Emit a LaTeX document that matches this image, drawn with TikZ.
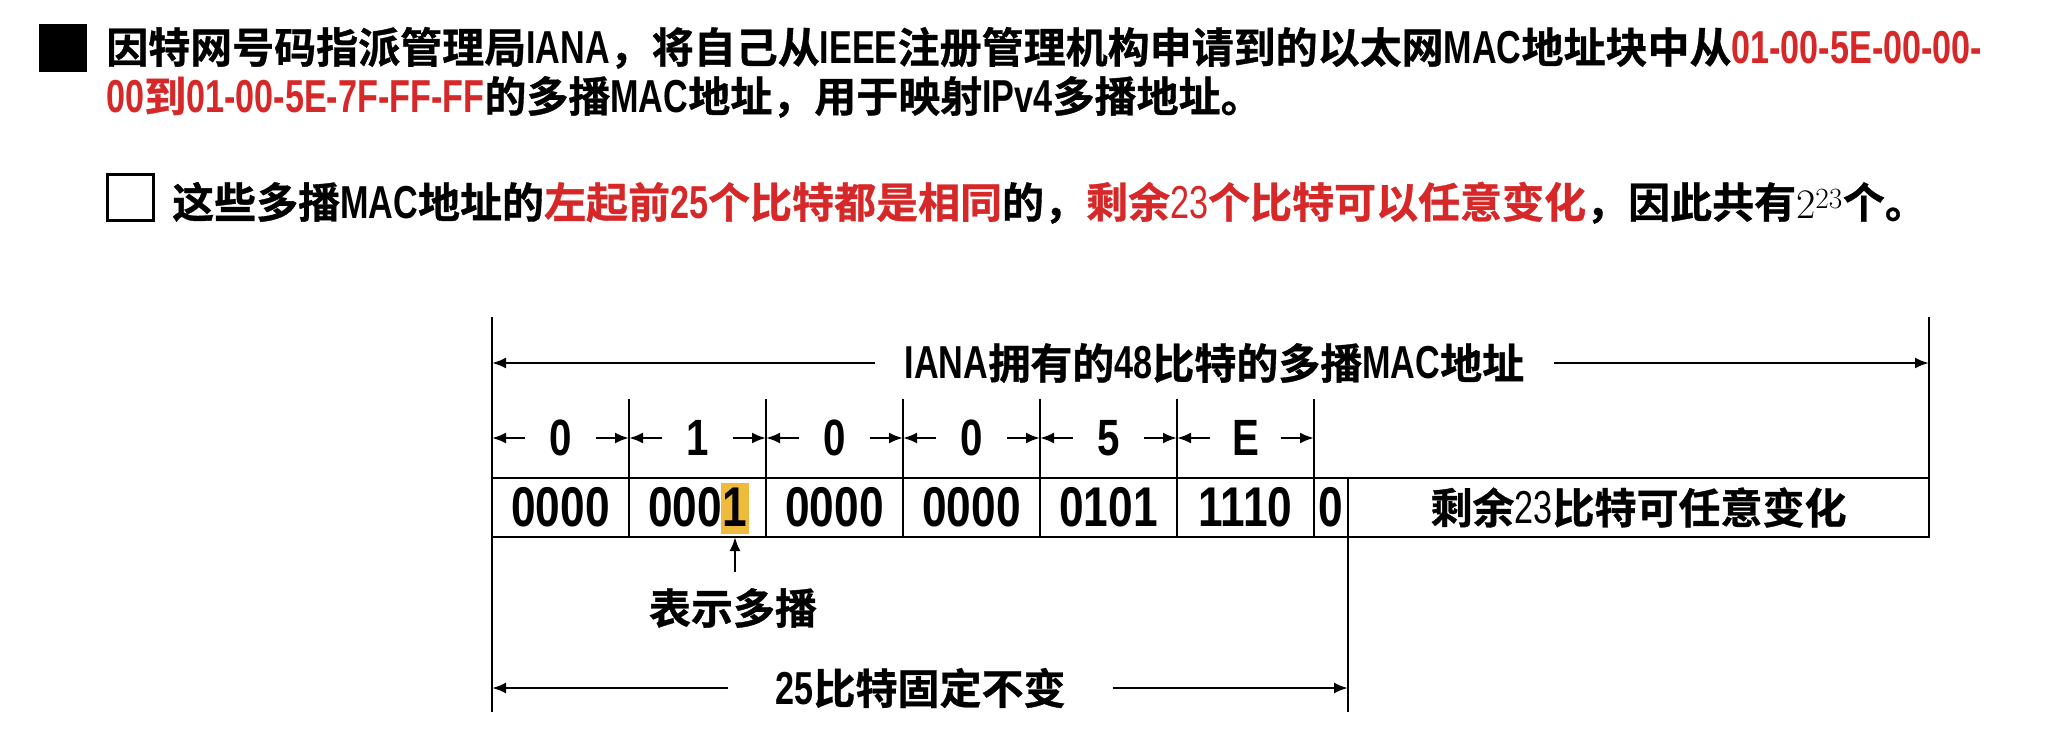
\documentclass[tikz,border=0pt]{standalone}
\usepackage{fontspec}
\setmainfont{Noto Sans CJK SC}[UprightFont={* Bold}, FakeBold=0.8]
\newfontfamily\engfont{Liberation Sans}[UprightFont={* Bold}, FakeStretch=0.74, Scale=1.1]
\newfontfamily\thinfont{Liberation Sans}[FakeStretch=0.74, Scale=1.1]
\newfontfamily\bitfont{Liberation Sans}[UprightFont={* Bold}, FakeStretch=0.79]
\usepackage{xcolor}
\usetikzlibrary{arrows.meta,positioning}
\definecolor{hlred}{RGB}{214,40,40}
\definecolor{hlyellow}{RGB}{238,187,60}
\newcommand{\eng}[1]{{\engfont #1}}
\newcommand{\thinnum}[1]{{\thinfont #1}}
\tikzstyle{title} = [anchor=base west, inner sep=0pt, font=\fontsize{42}{50}\selectfont]
\tikzstyle{cell} = [rectangle, draw=black, line width=2.6pt, outer sep=0pt, minimum width=137pt, minimum height=59pt, inner sep=0pt, font=\bitfont\fontsize{56}{60}\selectfont]
\tikzstyle{hexlab} = [inner sep=0pt, minimum width=70pt, font=\bitfont\fontsize{51}{56}\selectfont]
\tikzstyle{dimlabel} = [inner ysep=0pt, font=\fontsize{42}{50}\selectfont]
\tikzstyle{guide} = [line width=2.4pt]
\tikzstyle{dim} = [line width=2.4pt, -{Latex[length=14pt,width=11pt]}]

\begin{document}
\begin{tikzpicture}[x=1pt, y=-1pt]
    \path[fill=white, use as bounding box] (0,0) rectangle (2054,750);

    % heading lines
    \node (sq1)[rectangle, fill=black, minimum size=48pt, inner sep=0pt] at (63,47.5) {};
    \node (l1)[title] at (106,63) {因特网号码指派管理局\eng{IANA}，将自己从\eng{IEEE}注册管理机构申请到的以太网\eng{MAC}地址块中从\textcolor{hlred}{\eng{01-00-5E-00-00-}}};
    \node (l2)[title] at (106,112) {\textcolor{hlred}{\eng{00}到\eng{01-00-5E-7F-FF-FF}}的多播\eng{MAC}地址，用于映射\eng{IPv4}多播地址。};
    \node (sq2)[rectangle, draw=black, line width=2.6pt, minimum size=46pt, inner sep=0pt] at (130.5,197.5) {};
    \node (l3)[title] at (172,218) {这些多播\eng{MAC}地址的\textcolor{hlred}{左起前\eng{25}个比特都是相同}的，\textcolor{hlred}{剩余\thinnum{23}个比特可以任意变化}，因此共有{\fontfamily{lmr}\selectfont 2\textsuperscript{23}}个。};

    % address fields
    \node (hl)[rectangle, fill=hlyellow, minimum width=28pt, minimum height=51pt, inner sep=0pt] at (735,508) {};
    \node (c1)[cell] at (560.5,507.5) {0000};
    \node (c2)[cell, right=0pt of c1] {0001};
    \node (c3)[cell, right=0pt of c2] {0000};
    \node (c4)[cell, right=0pt of c3] {0000};
    \node (c5)[cell, right=0pt of c4] {0101};
    \node (c6)[cell, right=0pt of c5] {1110};
    \node (c7)[cell, minimum width=34pt, right=0pt of c6] {0};
    \node (c8)[cell, minimum width=581pt, right=0pt of c7, font=\fontsize{42}{50}\selectfont] {剩余\thinnum{23}比特可任意变化};

    \coordinate (ltop) at (492,317);
    \coordinate (lbot) at (492,712);
    \coordinate (rtop) at (1929,317);
    \coordinate (fbot) at (1348,712);
    \draw[guide] (ltop) -- (lbot);
    \draw[guide] (rtop) -- (c8.north east);
    \draw[guide] (c8.south west) -- (fbot);
    \foreach \i in {2,...,7}
        \draw[guide] (c\i.north west) -- ++(0,-79);

    % hex digits above the fields
    \foreach \i/\h in {1/0, 2/1, 3/0, 4/0, 5/5, 6/E} {
        \node (h\i)[hexlab] at (c\i.center |- 0,438) {\h};
        \draw[dim] (h\i.west) -- (h\i.west -| c\i.west);
        \draw[dim] (h\i.east) -- (h\i.east -| c\i.east);
    }

    \node (iana)[dimlabel, inner xsep=30pt] at (1214.5,363) {\eng{IANA}拥有的\eng{48}比特的多播\eng{MAC}地址};
    \draw[dim] (iana.west) -- (iana.west -| ltop);
    \draw[dim] (iana.east) -- (iana.east -| rtop);

    \node (mcast)[dimlabel, inner ysep=16pt] at (733,608) {表示多播};
    \draw[dim] (hl.south |- mcast.north) -- (hl.south |- c2.south);

    \node (fixed)[dimlabel, inner xsep=47pt] at (920.5,688) {\eng{25}比特固定不变};
    \draw[dim] (fixed.west) -- (fixed.west -| lbot);
    \draw[dim] (fixed.east) -- (fixed.east -| fbot);
\end{tikzpicture}
\end{document}
